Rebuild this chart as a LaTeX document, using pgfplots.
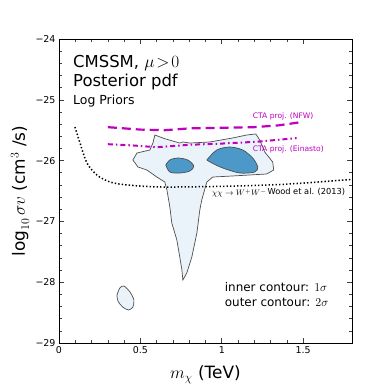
\documentclass[border=0pt]{standalone}
\usepackage{fontspec}
\setmainfont{DejaVu Sans}
\usepackage{pgfplots}
\pgfplotsset{compat=1.18}
\definecolor{outerfill}{HTML}{EAF2FA}
\definecolor{innerfill}{HTML}{4C99C9}
\definecolor{edge}{HTML}{4D4D4D}
\definecolor{cta}{HTML}{BF00BF}

\begin{document}
\begin{tikzpicture}[x=1bp,y=1bp]
\useasboundingbox (-59,-47) rectangle (331,343);
\begin{axis}[
  at={(0,0)}, anchor=south west,
  scale only axis, width=293bp, height=304bp,
  xmin=0, xmax=1.8, ymin=-29, ymax=-24,
  xtick={0,0.5,1,1.5}, xticklabels={0,0.5,1,1.5},
  ytick={-29,-28,-27,-26,-25,-24},
  yticklabels={−29,−28,−27,−26,−25,−24},
  minor x tick num=4, minor y tick num=4,
  tick align=inside, tick pos=both,
  major tick length=5bp, minor tick length=3bp,
  tick style={black!75, line width=0.6bp},
  axis line style={line width=0.9bp},
  tick label style={font=\fontsize{9.5}{11}\selectfont},
  xlabel={$m_\chi$ (TeV)},
  ylabel={$\log_{10}\sigma v$ (cm$^3$ /s)},
  label style={font=\fontsize{17}{20}\selectfont},
  xlabel style={at={(axis description cs:0.5,-0.105)}, anchor=center},
  ylabel style={at={(axis description cs:-0.133,0.5)}, anchor=center},
]
% outer contour (2 sigma)
\addplot[fill=outerfill, draw=edge, line width=0.7bp] coordinates {
 (0.589,-25.579) (0.650,-25.640) (0.742,-25.711) (0.761,-25.694) (0.804,-25.711)
 (0.926,-25.694) (1.067,-25.628) (1.153,-25.579) (1.209,-25.562) (1.233,-25.661)
 (1.264,-25.859) (1.313,-26.023) (1.319,-26.155) (1.276,-26.220) (1.067,-26.253)
 (0.945,-26.270) (0.908,-26.352) (0.877,-26.648) (0.865,-26.813) (0.847,-27.191)
 (0.816,-27.586) (0.785,-27.849) (0.761,-27.964) (0.755,-27.799) (0.742,-27.586)
 (0.724,-27.306) (0.693,-27.026) (0.681,-26.763) (0.663,-26.484) (0.650,-26.352)
 (0.601,-26.270) (0.540,-26.155) (0.485,-26.105) (0.454,-25.990) (0.479,-25.875)
 (0.558,-25.826) (0.577,-25.711)
} -- cycle;
\addplot[fill=outerfill, draw=edge, line width=0.7bp, smooth] coordinates {
 (0.356,-28.211) (0.374,-28.095) (0.399,-28.063) (0.436,-28.161) (0.460,-28.293)
 (0.454,-28.408) (0.427,-28.457) (0.390,-28.405) (0.362,-28.310) (0.356,-28.211)
};
% inner contours (1 sigma)
\addplot[fill=innerfill, draw=edge, line width=0.7bp, smooth] coordinates {
 (0.656,-26.072) (0.681,-25.990) (0.730,-25.957) (0.791,-25.990) (0.828,-26.089)
 (0.804,-26.171) (0.742,-26.204) (0.681,-26.188) (0.656,-26.072)
};
\addplot[fill=innerfill, draw=edge, line width=0.7bp, smooth] coordinates {
 (0.908,-25.990) (0.969,-25.826) (1.049,-25.776) (1.129,-25.826) (1.190,-25.957)
 (1.221,-26.105) (1.202,-26.188) (1.110,-26.204) (1.006,-26.122) (0.939,-26.039)
 (0.908,-25.990)
};
% Wood et al. (2013)
\addplot[black, line width=1.5bp, dash pattern=on 1.4bp off 2.1bp, smooth] coordinates {
 (0.098,-25.447) (0.129,-25.711) (0.172,-26.040) (0.233,-26.237) (0.313,-26.352)
 (0.417,-26.400) (0.620,-26.434) (0.969,-26.425) (1.300,-26.400) (1.500,-26.370)
 (1.800,-26.310)
};
% CTA projections
\addplot[cta, line width=2.2bp, dash pattern=on 9bp off 5bp] coordinates {
 (0.30,-25.45) (0.50,-25.49) (0.65,-25.50) (0.80,-25.47) (1.00,-25.46)
 (1.20,-25.45) (1.35,-25.42) (1.48,-25.37)
};
\addplot[cta, line width=2bp, dash pattern=on 5bp off 3bp on 1.5bp off 3bp] coordinates {
 (0.30,-25.73) (0.45,-25.75) (0.60,-25.78) (0.80,-25.74) (1.00,-25.72)
 (1.215,-25.69) (1.46,-25.63)
};
\node[anchor=west, cta, font=\fontsize{7.6}{9}\selectfont, inner sep=0] at (axis cs:1.19,-25.27) {CTA proj. (NFW)};
\node[anchor=west, cta, font=\fontsize{7.6}{9}\selectfont, inner sep=0] at (axis cs:1.19,-25.81) {CTA proj. (Einasto)};
\node[anchor=west, font=\fontsize{8.3}{10}\selectfont, inner sep=0] at (axis cs:0.94,-26.54) {$\chi\chi\to W^+W^-$};
\node[anchor=west, font=\fontsize{8.3}{10}\selectfont, inner sep=0] at (axis cs:1.28,-26.52) {Wood et al. (2013)};
\node[anchor=west, font=\fontsize{16.5}{18}\selectfont, inner sep=0] at (axis cs:0.086,-24.39) {CMSSM, $\mu\!>\!0$};
\node[anchor=west, font=\fontsize{16.5}{18}\selectfont, inner sep=0] at (axis cs:0.086,-24.71) {Posterior pdf};
\node[anchor=west, font=\fontsize{12.5}{14}\selectfont, inner sep=0] at (axis cs:0.086,-25.02) {Log Priors};
\node[anchor=west, font=\fontsize{12}{14}\selectfont, inner sep=0] at (axis cs:1.018,-28.08) {inner contour: $1\sigma$};
\node[anchor=west, font=\fontsize{12}{14}\selectfont, inner sep=0] at (axis cs:1.018,-28.33) {outer contour: $2\sigma$};
\node[anchor=south east, font=\fontsize{9.5}{11}\selectfont, inner sep=0] at (rel axis cs:1,1) [yshift=3bp] {BayesFITS (2014)};
\end{axis}
\end{tikzpicture}
\end{document}
